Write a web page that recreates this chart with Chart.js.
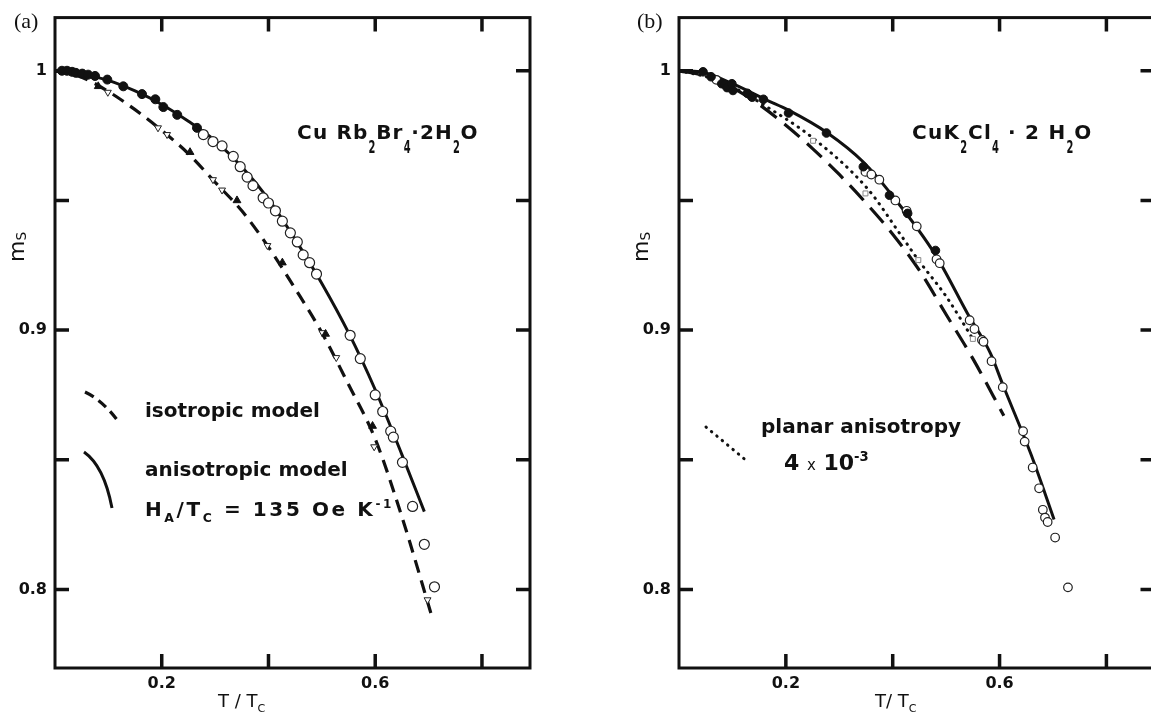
<!DOCTYPE html>
<html>
<head>
<meta charset="utf-8">
<script src="https://cdn.jsdelivr.net/npm/chart.js@4.4.1/dist/chart.umd.min.js"></script>
<style>
  html, body { margin: 0; padding: 0; background: #fff; overflow: hidden; }
  #wrap { position: relative; width: 1151px; height: 716px; }
  canvas { position: absolute; top: 0; }
  #chartA { left: 0; }
  #chartB { left: 600px; }
</style>
</head>
<body>
<div id="wrap">
  <canvas id="chartA" width="600" height="716"></canvas>
  <canvas id="chartB" width="560" height="716"></canvas>
</div>
<script>
// axes (shared by both panels)
const tMin = 0, tMax = 0.89;
const mMin = 0.7697, mMax = 1.0205;
const tLabelled = [0.2, 0.6];
const mLabelled = [1, 0.9, 0.8];

// (a) CuRb2Br4.2H2O
const aAnisoT = [0, 0.05, 0.1, 0.15, 0.2, 0.25, 0.3, 0.35, 0.4, 0.45, 0.5, 0.55, 0.6, 0.65, 0.692];
const aAnisoM = [1.0, 0.9988, 0.9963, 0.9922, 0.987, 0.9805, 0.973, 0.963, 0.9505, 0.935, 0.918, 0.899, 0.877, 0.852, 0.830];
const aIsoT = [0, 0.05, 0.1, 0.15, 0.2, 0.25, 0.3, 0.35, 0.4, 0.45, 0.5, 0.55, 0.6, 0.65, 0.707];
const aIsoM = [1.0, 0.9975, 0.992, 0.985, 0.977, 0.968, 0.957, 0.946, 0.932, 0.916, 0.899, 0.879, 0.858, 0.828, 0.789];
const aDotT = [0.013, 0.0225, 0.032, 0.039, 0.051, 0.062, 0.075, 0.098, 0.128, 0.163, 0.188, 0.203, 0.229, 0.266];
const aDotM = [1.0, 1.0, 0.9996, 0.9992, 0.9989, 0.9985, 0.998, 0.9966, 0.994, 0.991, 0.989, 0.986, 0.983, 0.978];
const aRingT = [0.278, 0.296, 0.313, 0.334, 0.347, 0.36, 0.371, 0.39, 0.4, 0.413, 0.426, 0.441, 0.454, 0.465, 0.477, 0.49,
                0.553, 0.572, 0.6, 0.614, 0.629, 0.634, 0.651, 0.67, 0.692, 0.711];
const aRingM = [0.9754, 0.9727, 0.971, 0.967, 0.963, 0.959, 0.9557, 0.951, 0.949, 0.946, 0.942, 0.9375, 0.934, 0.929, 0.926, 0.9216,
                0.898, 0.889, 0.875, 0.8686, 0.861, 0.8587, 0.849, 0.832, 0.8174, 0.801];
const aTriT = [0.081, 0.253, 0.341, 0.426, 0.507, 0.595];
const aTriM = [0.994, 0.9686, 0.950, 0.926, 0.8985, 0.863];
const aOpenTriT = [0.099, 0.193, 0.210, 0.296, 0.313, 0.398, 0.501, 0.527, 0.598, 0.698];
const aOpenTriM = [0.9917, 0.978, 0.9754, 0.958, 0.954, 0.9326, 0.899, 0.8894, 0.855, 0.796];

// (b) CuK2Cl4.2H2O
const bAnisoT = [0, 0.04, 0.1, 0.165, 0.205, 0.278, 0.345, 0.396, 0.48, 0.54, 0.583, 0.606, 0.659, 0.702];
const bAnisoM = [1.0, 0.9996, 0.995, 0.9886, 0.9848, 0.976, 0.9648, 0.9527, 0.929, 0.9064, 0.891, 0.879, 0.852, 0.827];
const bIsoT = [0, 0.05, 0.1, 0.15, 0.2, 0.25, 0.3, 0.35, 0.4, 0.45, 0.5, 0.55, 0.608];
const bIsoM = [1.0, 0.998, 0.9935, 0.987, 0.979, 0.970, 0.960, 0.949, 0.937, 0.923, 0.906, 0.889, 0.867];
const bPlanarT = [0, 0.058, 0.1, 0.165, 0.251, 0.353, 0.415, 0.448, 0.5, 0.55];
const bPlanarM = [1.0, 0.9973, 0.9938, 0.986, 0.974, 0.9545, 0.9367, 0.927, 0.913, 0.8966];
const bDotT = [0.045, 0.060, 0.080, 0.086, 0.090, 0.099, 0.101, 0.128, 0.137, 0.158, 0.205, 0.276, 0.345, 0.394, 0.428, 0.480];
const bDotM = [0.9996, 0.9977, 0.995, 0.9947, 0.9935, 0.995, 0.9924, 0.9913, 0.9898, 0.989, 0.9837, 0.976, 0.963, 0.952, 0.945, 0.9307];
const bRingT = [0.07, 0.349, 0.36, 0.375, 0.405, 0.426, 0.445, 0.482, 0.488, 0.544, 0.553, 0.567, 0.570, 0.585, 0.606,
                0.644, 0.647, 0.662, 0.674, 0.681, 0.685, 0.690, 0.704, 0.728];
const bRingM = [0.9965, 0.961, 0.960, 0.958, 0.950, 0.946, 0.940, 0.9273, 0.9258, 0.9038, 0.9004, 0.8962, 0.8955, 0.888, 0.878,
                0.861, 0.857, 0.847, 0.839, 0.8307, 0.8277, 0.826, 0.820, 0.8008];
const bSquareT = [0.251, 0.349, 0.448, 0.550];
const bSquareM = [0.973, 0.9527, 0.927, 0.8966];

const INK = '#111';
const TICK = 14;

const pairs = (ts, ms) => ts.map((t, i) => ({ x: t, y: ms[i] }));
const near = (list, v) => list.some(u => Math.abs(u - v) < 1e-6);

function curve(ts, ms, dash, width, cap) {
  return {
    data: pairs(ts, ms), showLine: true, pointRadius: 0, order: 2,
    borderColor: INK, borderWidth: width || 3, borderDash: dash || [],
    borderCapStyle: cap || 'butt', cubicInterpolationMode: 'monotone', fill: false
  };
}

function marks(ts, ms, style, r, filled, extra) {
  return Object.assign({
    data: pairs(ts, ms), showLine: false, order: 1,
    pointStyle: style, pointRadius: r,
    backgroundColor: filled ? INK : '#fff',
    borderColor: filled ? INK : '#222', borderWidth: filled ? 1 : 1.2
  }, extra || {});
}

// text with sub/superscripts, drawn left to right from (x, y)
function rich(ctx, x, y, parts, size, weight, spacing) {
  let cx = x;
  ctx.save();
  ctx.fillStyle = INK;
  ctx.textBaseline = 'alphabetic';
  ctx.letterSpacing = (spacing || 0) + 'px';
  for (const [txt, kind, shift] of parts) {
    let s = size, w = weight, dy = 0, sx = 1;
    if (kind === 'sub') { s = size * 0.62; dy = size * 0.3; }
    else if (kind === 'sup') { s = size * 0.6; dy = -size * 0.42; }
    else if (kind === 'tsub') { s = size * 0.9; dy = size * 0.68; sx = 0.55; }
    else if (kind === 'small') { s = size * 0.68; w = 'normal'; }
    if (shift !== undefined) dy = shift;
    ctx.font = `${w} ${s}px "DejaVu Sans"`;
    ctx.save();
    ctx.translate(cx, y + dy);
    ctx.scale(sx, 1);
    ctx.fillText(txt, 0, 0);
    ctx.restore();
    cx += ctx.measureText(txt).width * sx;
  }
  ctx.restore();
}

function msLabel(ctx, x, y) {
  ctx.save();
  ctx.translate(x, y);
  ctx.rotate(-Math.PI / 2);
  rich(ctx, 0, 0, [['m', ''], ['S', 'sub', 2]], 22, 'normal');
  ctx.restore();
}

function panelTag(ctx, txt, x) {
  ctx.save();
  ctx.fillStyle = INK;
  ctx.font = '22px "Liberation Serif"';
  ctx.fillText(txt, x, 28);
  ctx.restore();
}

function keyStroke(ctx, pts, dash, width, cap) {
  ctx.save();
  ctx.strokeStyle = INK;
  ctx.lineWidth = width || 3;
  ctx.lineCap = cap || 'butt';
  ctx.setLineDash(dash);
  ctx.beginPath();
  ctx.moveTo(pts[0][0], pts[0][1]);
  if (pts.length === 3) ctx.quadraticCurveTo(pts[1][0], pts[1][1], pts[2][0], pts[2][1]);
  else ctx.lineTo(pts[1][0], pts[1][1]);
  ctx.stroke();
  ctx.restore();
}

// box around the plot with inward tick marks on all four sides
const frameTicks = {
  id: 'frameTicks',
  afterDraw(chart) {
    const { ctx, chartArea: a, scales: { x, y } } = chart;
    ctx.save();
    ctx.strokeStyle = INK;
    ctx.lineWidth = 3;
    ctx.strokeRect(a.left, a.top, a.right - a.left, a.bottom - a.top);
    ctx.lineWidth = 3.5;
    ctx.beginPath();
    x.ticks.forEach(t => {
      const px = x.getPixelForValue(t.value);
      if (px < a.left + 3 || px > a.right - 3) return;
      ctx.moveTo(px, a.bottom); ctx.lineTo(px, a.bottom - TICK);
      ctx.moveTo(px, a.top); ctx.lineTo(px, a.top + TICK);
    });
    y.ticks.forEach(t => {
      const py = y.getPixelForValue(t.value);
      if (py < a.top + 3 || py > a.bottom - 3) return;
      ctx.moveTo(a.left, py); ctx.lineTo(a.left + TICK, py);
      ctx.moveTo(a.right, py); ctx.lineTo(a.right - TICK, py);
    });
    ctx.stroke();
    ctx.restore();
  }
};

function makeChart(id, datasets, yWidth, rightPad, decorate) {
  const tickFont = { family: 'DejaVu Sans', size: 16, weight: 'bold' };
  return new Chart(document.getElementById(id), {
    type: 'scatter',
    data: { datasets },
    options: {
      responsive: false,
      animation: false,
      layout: { padding: { top: 6, right: rightPad, bottom: 0, left: 0 } },
      plugins: { legend: { display: false }, tooltip: { enabled: false } },
      scales: {
        x: {
          type: 'linear', min: tMin, max: tMax,
          grid: { display: false, drawTicks: false }, border: { display: false },
          ticks: {
            stepSize: 0.2, includeBounds: false, autoSkip: false, maxRotation: 0,
            padding: 6, color: INK, font: tickFont,
            callback: v => near(tLabelled, v) ? String(v) : ''
          },
          afterFit: s => { s.height = 48; }
        },
        y: {
          type: 'linear', min: mMin, max: mMax,
          grid: { display: false, drawTicks: false }, border: { display: false },
          ticks: {
            stepSize: 0.05, includeBounds: false, autoSkip: false,
            padding: 8, color: INK, font: tickFont,
            callback: v => near(mLabelled, v) ? String(v) : ''
          },
          afterFit: s => { s.width = yWidth; }
        }
      }
    },
    plugins: [frameTicks, { id: 'decor', afterDraw: c => decorate(c.ctx) }]
  });
}

makeChart('chartA', [
  marks(aDotT, aDotM, 'circle', 4.5, true),
  marks(aRingT, aRingM, 'circle', 5, false),
  marks(aTriT, aTriM, 'triangle', 4.5, true),
  marks(aOpenTriT, aOpenTriM, 'triangle', 4, false, { rotation: 180, borderWidth: 1 }),
  curve(aAnisoT, aAnisoM),
  curve(aIsoT, aIsoM, [13, 8], 3.2)
], 55, 70, ctx => {
  panelTag(ctx, '(a)', 14);
  msLabel(ctx, 24, 262);
  rich(ctx, 218, 707, [['T / T', ''], ['C', 'sub']], 18, 'normal');
  rich(ctx, 297, 139, [['Cu Rb', ''], ['2', 'tsub'], ['Br', ''], ['4', 'tsub'], ['·2H', ''], ['2', 'tsub'], ['O', '']], 20, 'bold', 1.2);
  keyStroke(ctx, [[85, 392], [104, 401], [120, 424]], [10, 6], 3.2);
  rich(ctx, 145, 417, [['isotropic model', '']], 20, 'bold');
  keyStroke(ctx, [[84, 452], [104, 466], [112, 508]], [], 3);
  rich(ctx, 145, 476, [['anisotropic model', '']], 20, 'bold');
  rich(ctx, 145, 516, [['H', ''], ['A', 'sub'], ['/T', ''], ['C', 'sub'], [' = 135 Oe K', ''], ['-1', 'sup']], 20, 'bold', 2.6);
});

makeChart('chartB', [
  marks(bDotT, bDotM, 'circle', 4.3, true),
  marks(bRingT, bRingM, 'circle', 4.3, false),
  marks(bSquareT, bSquareM, 'rect', 3.5, false, { borderColor: '#888', borderWidth: 1 }),
  curve(bAnisoT, bAnisoM),
  curve(bPlanarT, bPlanarM, [0.5, 6.5], 3, 'round'),
  curve(bIsoT, bIsoM, [20, 10], 3.2)
], 79, 5, ctx => {
  panelTag(ctx, '(b)', 37);
  msLabel(ctx, 48, 262);
  rich(ctx, 275, 707, [['T/ T', ''], ['C', 'sub']], 18, 'normal');
  rich(ctx, 312, 139, [['CuK', ''], ['2', 'tsub'], ['Cl', ''], ['4', 'tsub'], [' · 2 H', ''], ['2', 'tsub'], ['O', '']], 20, 'bold', 1.3);
  keyStroke(ctx, [[106, 427], [148, 462]], [0.5, 6.5], 3, 'round');
  rich(ctx, 161, 433, [['planar anisotropy', '']], 20, 'bold');
  rich(ctx, 184, 470, [['4 ', ''], ['x', 'small'], [' 10', ''], ['-3', 'sup']], 22, 'bold');
});
</script>
</body>
</html>
